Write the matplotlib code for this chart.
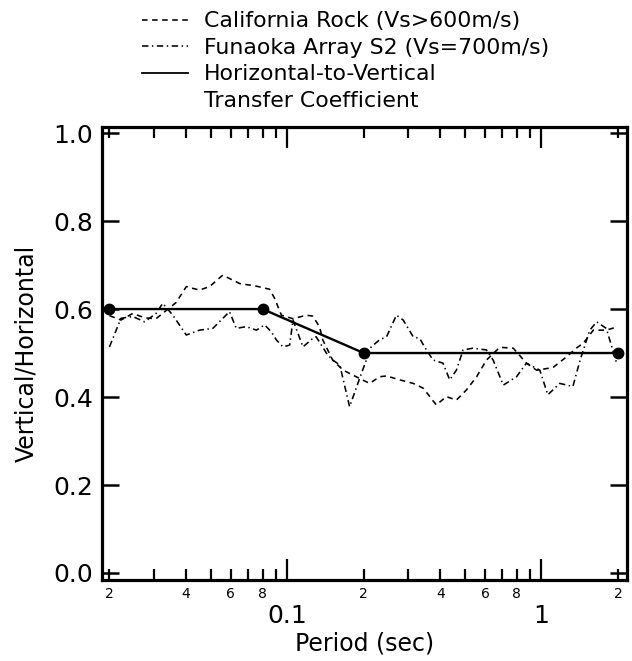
import matplotlib
matplotlib.use('Agg')
import matplotlib.pyplot as plt
from matplotlib.lines import Line2D
from matplotlib.ticker import FixedLocator, FixedFormatter

plt.rcParams['font.family'] = ['DejaVu Sans']

# horizontal-to-vertical transfer coefficient (solid line with dots)
coef_period = [0.02, 0.08, 0.2, 2.0]
coef_ratio = [0.6, 0.6, 0.5, 0.5]

# California Rock (Vs>600m/s), dashed
cal_period = [0.020, 0.0222, 0.0247, 0.0275, 0.0305, 0.0340, 0.0366, 0.0401, 0.0452, 0.0495,
              0.0558, 0.0650, 0.0757, 0.0853, 0.0893, 0.0949, 0.1054, 0.119, 0.126, 0.134,
              0.138, 0.151, 0.166, 0.193, 0.211, 0.231, 0.246, 0.277, 0.313, 0.343,
              0.386, 0.423, 0.463, 0.507, 0.556, 0.608, 0.686, 0.775, 0.873, 0.957,
              1.11, 1.26, 1.37, 1.46, 1.60, 1.80, 2.00]
cal_ratio = [0.585, 0.575, 0.590, 0.580, 0.578, 0.600, 0.615, 0.651, 0.643, 0.651,
             0.677, 0.658, 0.652, 0.645, 0.624, 0.586, 0.578, 0.586, 0.584, 0.560,
             0.530, 0.484, 0.461, 0.442, 0.431, 0.446, 0.448, 0.439, 0.431, 0.420,
             0.382, 0.401, 0.393, 0.416, 0.446, 0.484, 0.513, 0.511, 0.477, 0.461,
             0.467, 0.492, 0.511, 0.522, 0.552, 0.552, 0.560]

# Funaoka Array S2 (Vs=700m/s), dash-dot
fun_period = [0.020, 0.0222, 0.0247, 0.0275, 0.0305, 0.0324, 0.0355, 0.0401, 0.0452, 0.0510,
              0.0593, 0.0631, 0.069, 0.0757, 0.0815, 0.0867, 0.0906, 0.0962, 0.1023, 0.1054,
              0.1154, 0.126, 0.130, 0.143, 0.151, 0.161, 0.176, 0.196, 0.214, 0.231,
              0.246, 0.269, 0.286, 0.313, 0.332, 0.353, 0.375, 0.410, 0.436, 0.463,
              0.492, 0.538, 0.608, 0.646, 0.708, 0.798, 0.873, 0.986, 1.06, 1.18,
              1.33, 1.42, 1.55, 1.65, 1.80, 1.97]
fun_ratio = [0.514, 0.579, 0.583, 0.571, 0.590, 0.613, 0.586, 0.541, 0.552, 0.556,
             0.594, 0.556, 0.560, 0.552, 0.564, 0.548, 0.530, 0.514, 0.518, 0.575,
             0.514, 0.533, 0.537, 0.499, 0.484, 0.473, 0.378, 0.454, 0.514, 0.530,
             0.537, 0.586, 0.575, 0.537, 0.533, 0.507, 0.484, 0.477, 0.439, 0.461,
             0.507, 0.511, 0.507, 0.484, 0.427, 0.446, 0.477, 0.461, 0.405, 0.431,
             0.424, 0.484, 0.552, 0.571, 0.556, 0.480]

major_x = [0.1, 1.0]
major_x_labels = ['0.1', '1']
minor_x = [0.02, 0.03, 0.04, 0.05, 0.06, 0.07, 0.08, 0.09,
           0.2, 0.3, 0.4, 0.5, 0.6, 0.7, 0.8, 0.9, 2.0]
minor_x_labels = ['2', '', '4', '', '6', '', '8', '',
                  '2', '', '4', '', '6', '', '8', '', '2']
y_ticks = [0.0, 0.2, 0.4, 0.6, 0.8, 1.0]
y_labels = ['0.0', '0.2', '0.4', '0.6', '0.8', '1.0']

fig = plt.figure(figsize=(6.32, 6.61), dpi=100)
ax = fig.add_axes([0.161, 0.1225, 0.831, 0.6855])

l_cal, = ax.plot(cal_period, cal_ratio, color='black', lw=1.15, dashes=(3.5, 2.8))
l_fun, = ax.plot(fun_period, fun_ratio, color='black', lw=1.15, dashes=(4, 2.2, 0.9, 2.2))
l_coef, = ax.plot(coef_period, coef_ratio, color='black', lw=1.7, marker='o', ms=7.5)

ax.set_xscale('log')
ax.set_xlim(0.01865, 2.17)
ax.set_ylim(-0.016, 1.014)

ax.xaxis.set_major_locator(FixedLocator(major_x))
ax.xaxis.set_major_formatter(FixedFormatter(major_x_labels))
ax.xaxis.set_minor_locator(FixedLocator(minor_x))
ax.xaxis.set_minor_formatter(FixedFormatter(minor_x_labels))
ax.set_yticks(y_ticks)
ax.set_yticklabels(y_labels)

ax.tick_params(axis='x', which='major', direction='in', length=15, width=1.6,
               top=True, labelsize=18, pad=17)
ax.tick_params(axis='x', which='minor', direction='in', length=8, width=1.6,
               top=True, labelsize=10, pad=5)
ax.tick_params(axis='y', which='major', direction='in', length=12, width=1.8,
               right=True, labelsize=18, pad=6)
for s in ax.spines.values():
    s.set_linewidth(2.3)

ax.set_xlabel('Period (sec)', fontsize=17, labelpad=3)
ax.set_ylabel('Vertical/Horizontal', fontsize=17, labelpad=11)

blank = Line2D([], [], color='none')
fig.legend([l_cal, l_fun, Line2D([], [], color='black', lw=1.3), blank],
           ['California Rock (Vs>600m/s)', 'Funaoka Array S2 (Vs=700m/s)',
            'Horizontal-to-Vertical', 'Transfer Coefficient'],
           loc='upper left', bbox_to_anchor=(0.225, 0.983), frameon=False,
           fontsize=15.8, handlelength=2.1, handletextpad=0.7, labelspacing=0.3,
           borderpad=0, borderaxespad=0)

fig.savefig('out.png', dpi=100)
